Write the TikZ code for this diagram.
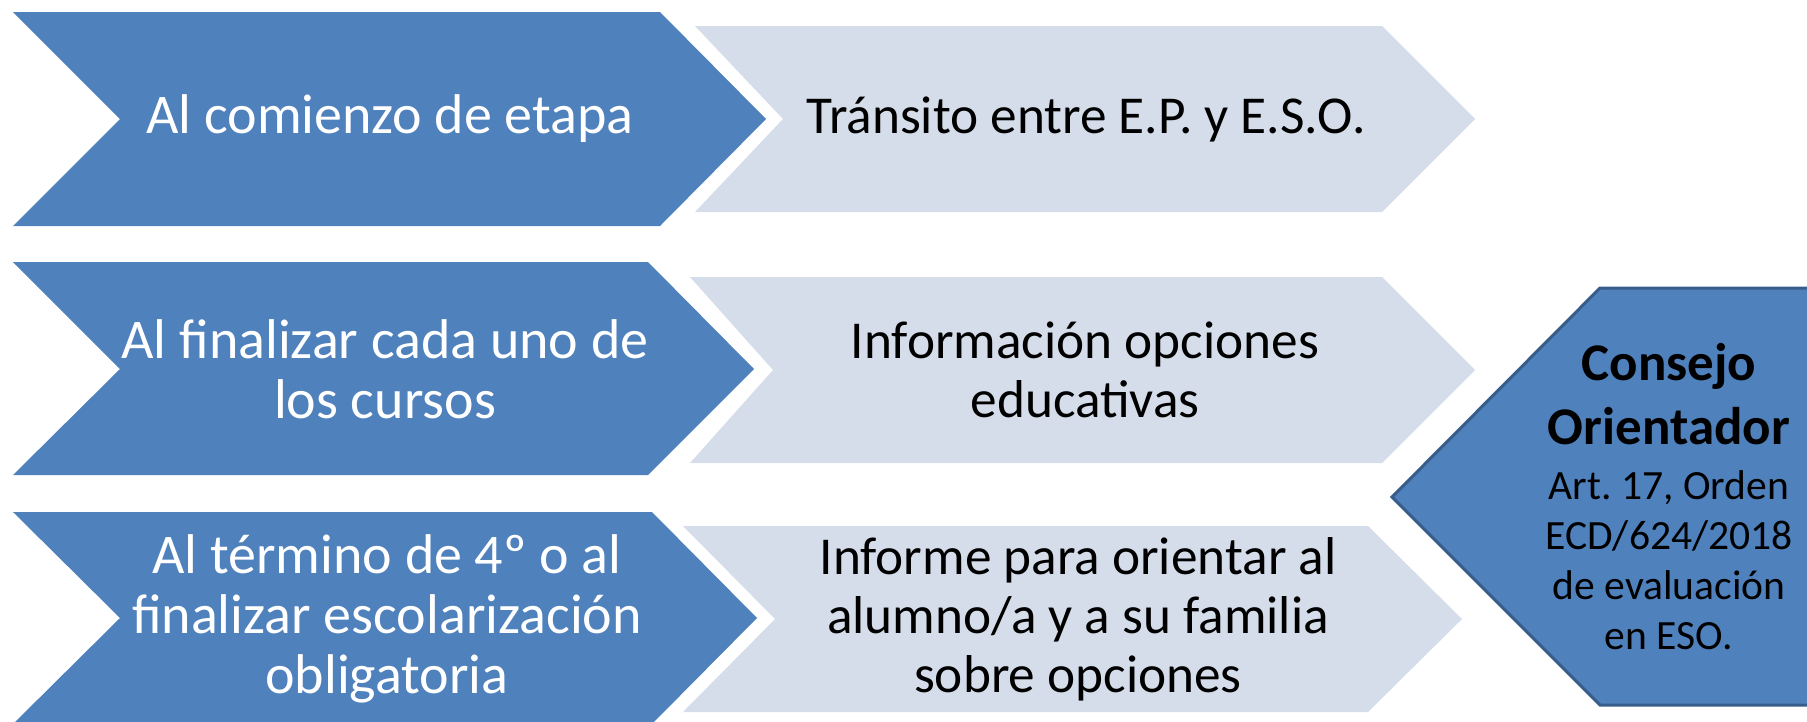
\documentclass[tikz,border=0pt]{standalone}
\usepackage{fontspec}
\setmainfont{Carlito}
\usepackage{tikz}
\usetikzlibrary{calc}
\frenchspacing
\definecolor{chevblue}{HTML}{4F81BD}
\definecolor{chevpale}{HTML}{D5DDEA}
\definecolor{chevline}{HTML}{385D8A}
\tikzset{
  chevtext/.style = {align=center, inner sep=0pt, text centered},
  darkchev/.style = {fill=chevblue},% flecha oscura
  palechev/.style = {fill=chevpale},% flecha clara
  wtext/.style = {chevtext, white, font=\fontsize{56}{60}\selectfont},
  btext/.style = {chevtext, black, font=\fontsize{53.3}{59}\selectfont},
  consejo/.style = {fill=chevblue, draw=chevline, line width=3pt, line join=miter},
}
\begin{document}
\begin{tikzpicture}[x=1pt,y=-1pt]
\useasboundingbox (0,0) rectangle (1807,721);
\clip (0,0) rectangle (1807,721);
% fila 1
\fill[darkchev] (13,12) -- (660,12) -- (766,119) -- (660,226) -- (13,226) -- (120,119) -- cycle;
\fill[palechev] (695,26) -- (1382,26) -- (1475,119) -- (1382,212) -- (695,212) -- (783,119) -- cycle;
\node[wtext] (d1) at (390,119) {Al comienzo de etapa};
\node[btext] (l1) at (1086,119) {Tránsito entre E.P. y E.S.O.};
% fila 2
\fill[darkchev] (13,262) -- (648,262) -- (754,369) -- (648,475) -- (13,475) -- (120,369) -- cycle;
\fill[palechev] (690,277) -- (1382,277) -- (1475,370) -- (1382,463) -- (690,463) -- (773,370) -- cycle;
\node[wtext] (d2) at (385,369) {Al finalizar cada uno de\\los cursos};
\node[btext] (l2) at (1085,370) {Información opciones\\educativas};
% fila 3
\fill[darkchev] (13,512) -- (652,512) -- (757,618) -- (652,724) -- (13,724) -- (120,618) -- cycle;
\fill[palechev] (683,526) -- (1368,526) -- (1462,619) -- (1368,712) -- (683,712) -- (775,619) -- cycle;
\node[wtext] (d3) at (387,619) {Al término de 4º o al\\finalizar escolarización\\obligatoria};
\node[btext] (l3) at (1078,619) {Informe para orientar al\\alumno/a y a su familia\\sobre opciones};
% consejo orientador
\filldraw[consejo] (1392,497) -- (1600,288) -- (1830,288) -- (1830,705) -- (1600,705) -- cycle;
\node[btext, font=\fontsize{41.6}{50}\selectfont] (co) at (1669,497)
  {{\fontsize{53}{64}\selectfont\bfseries Consejo}\\[14pt]
   {\fontsize{53}{64}\selectfont\bfseries Orientador}\\[5pt]
   Art. 17, Orden\\ECD/624/2018\\de evaluación\\en ESO.};
\end{tikzpicture}
\end{document}
